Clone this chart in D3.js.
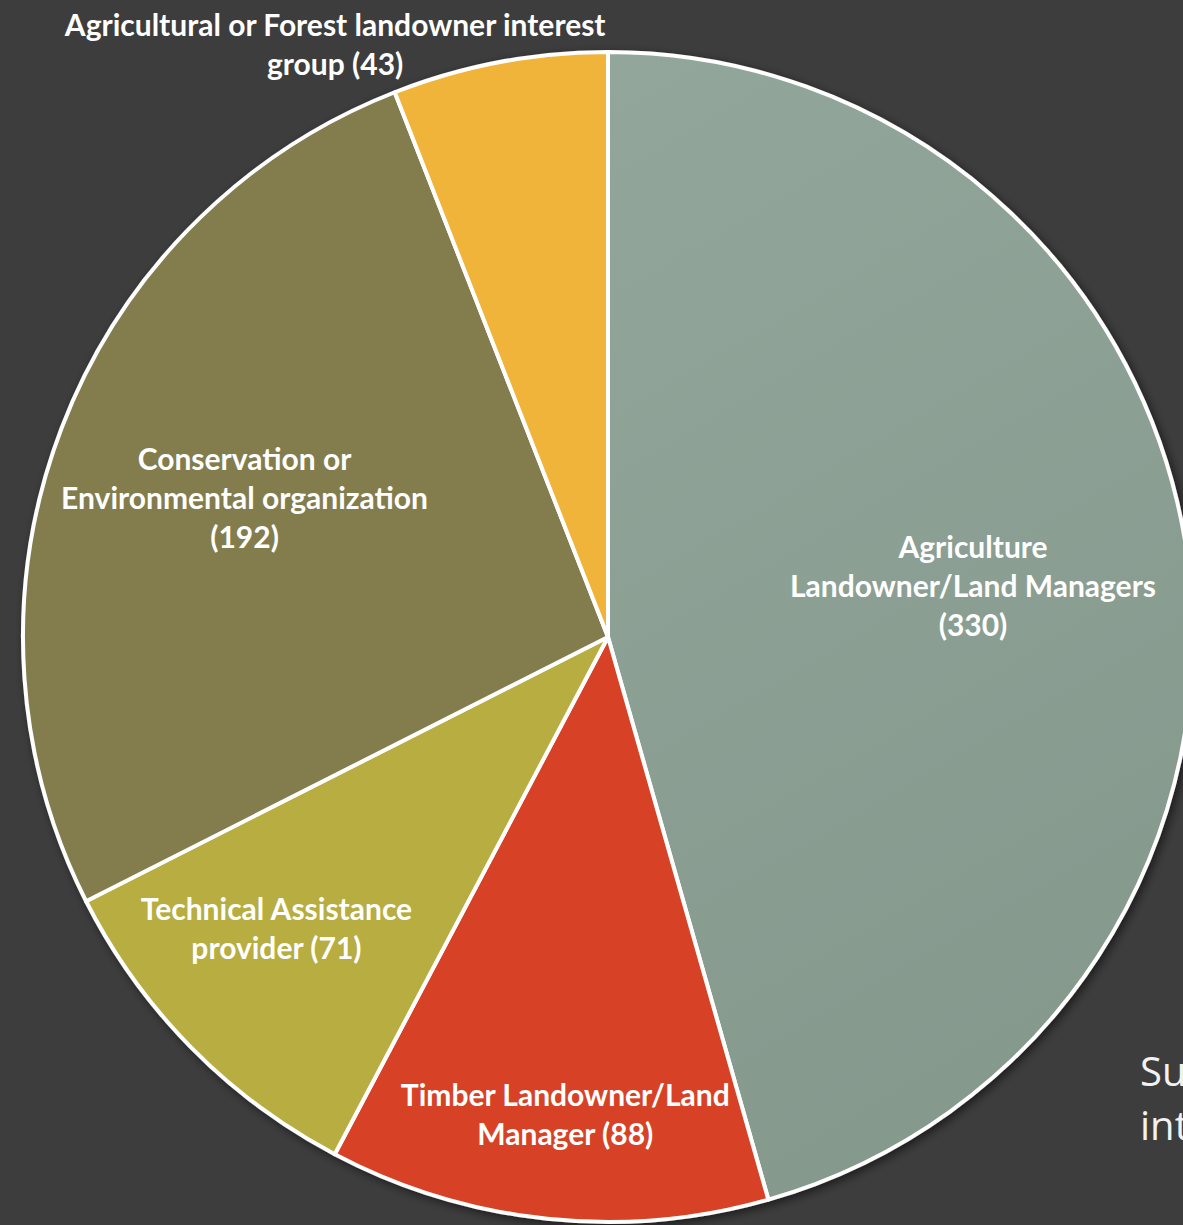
<!DOCTYPE html>
<html>
<head>
<meta charset="utf-8">
<script src="https://cdn.jsdelivr.net/npm/d3@7"></script>
<style>
  html, body { margin: 0; padding: 0; background: #3d3d3d; overflow: hidden; }
  svg { display: block; }
</style>
</head>
<body>
<svg id="chart" width="1183" height="1225"></svg>
<script>
// ---- data ----
const categories = [
  "Agriculture Landowner/Land Managers",
  "Timber Landowner/Land Manager",
  "Technical Assistance provider",
  "Conservation or Environmental organization",
  "Agricultural or Forest landowner interest group"
];
const counts = [330, 88, 71, 192, 43];
const labelLines = [
  ["Agriculture", "Landowner/Land Managers", "(330)"],
  ["Timber Landowner/Land", "Manager (88)"],
  ["Technical Assistance", "provider (71)"],
  ["Conservation or", "Environmental organization", "(192)"],
  ["Agricultural or Forest landowner interest", "group (43)"]
];
const sideText = ["Su", "int"];

// ---- styling / layout ----
const colors = ["#8ba094", "#d74327", "#b8ad41", "#837c4e", "#f0b43a"];
const labelRadius = [0.63, 0.82, 0.755, 0.665, 1.115];
const labelAngleShift = [0, -0.015, 0.055, 0, -0.245];
const W = 1183, H = 1225;
const cx = 608, cy = 637, R = 585;

const svg = d3.select("#chart");
const defs = svg.append("defs");
const f = defs.append("filter").attr("id", "shadow")
  .attr("x", "-10%").attr("y", "-10%").attr("width", "120%").attr("height", "120%");
f.append("feDropShadow").attr("dx", 3).attr("dy", 3).attr("stdDeviation", 5)
  .attr("flood-color", "#000").attr("flood-opacity", 0.55);

const g0 = defs.append("linearGradient").attr("id", "gAg")
  .attr("x1", "0").attr("y1", "0").attr("x2", "0.3").attr("y2", "1");
g0.append("stop").attr("offset", "0").attr("stop-color", "#93a69b");
g0.append("stop").attr("offset", "1").attr("stop-color", "#86998d");

const pie = d3.pie().sort(null).value(d => d).startAngle(0).endAngle(2 * Math.PI);
const arcs = pie(counts);
const arc = d3.arc().innerRadius(0).outerRadius(R);

const g = svg.append("g").attr("transform", `translate(${cx},${cy})`);

g.append("g").attr("filter", "url(#shadow)")
  .selectAll("path").data(arcs).join("path")
  .attr("d", arc)
  .attr("fill", (d, i) => i === 0 ? "url(#gAg)" : colors[i])
  .attr("stroke", "#ffffff")
  .attr("stroke-width", 4)
  .attr("stroke-linejoin", "round");

const fontSize = 30, lineH = 39;
const lab = g.append("g")
  .attr("font-family", "Lato, 'Open Sans', sans-serif")
  .attr("font-weight", "bold")
  .attr("font-size", fontSize)
  .attr("fill", "#ffffff")
  .attr("text-anchor", "middle");

arcs.forEach((d, i) => {
  const a = (d.startAngle + d.endAngle) / 2 + labelAngleShift[i];
  const r = R * labelRadius[i];
  const x = Math.sin(a) * r, y = -Math.cos(a) * r;
  const lines = labelLines[i];
  const t = lab.append("text").attr("x", x).attr("y", y);
  lines.forEach((ln, j) => {
    t.append("tspan").attr("x", x)
      .attr("y", y + (j - (lines.length - 1) / 2) * lineH)
      .attr("dy", "0.35em")
      .text(ln);
  });
});

svg.append("g")
  .attr("font-family", "'Open Sans', sans-serif")
  .attr("font-size", 40)
  .attr("fill", "#f2f2f2")
  .selectAll("text").data(sideText).join("text")
  .attr("x", 1140)
  .attr("y", (d, i) => 1086 + i * 54)
  .text(d => d);
</script>
</body>
</html>
